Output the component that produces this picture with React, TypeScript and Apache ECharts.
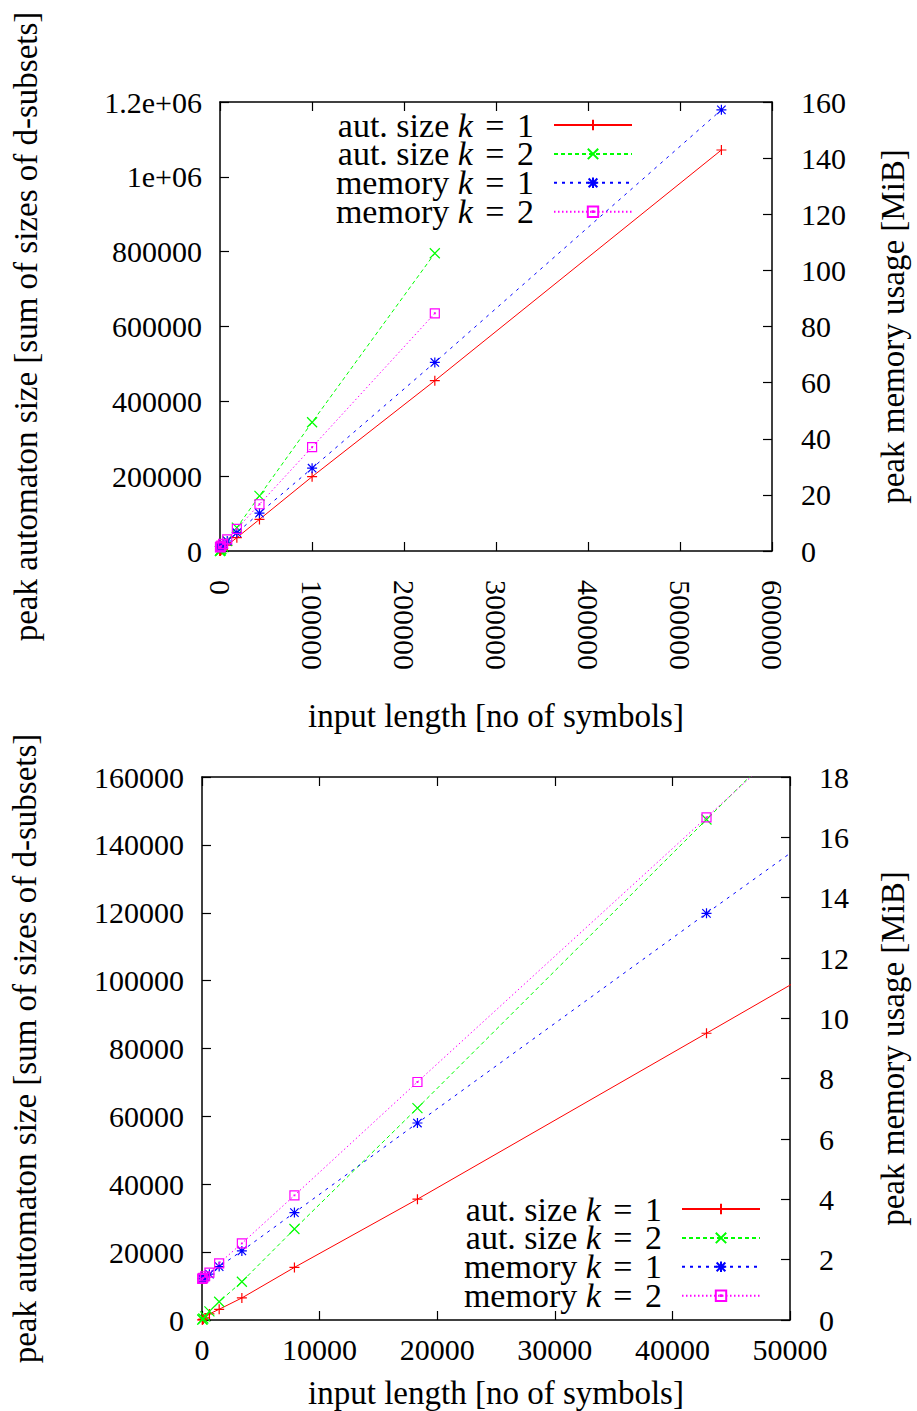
import React, { useEffect, useRef } from 'react';
import * as echarts from 'echarts';

// ---- data ----
const inputLength = [21, 49, 114, 266, 630, 1460, 3390, 7860, 18320, 42900, 100100, 233500, 545000];
const autSizeK1 = [40, 100, 260, 600, 1800, 3150, 6500, 15500, 35600, 84500, 198600, 455200, 1071700];
const autSizeK2 = [90, 200, 450, 1050, 2560, 5390, 11280, 26800, 62440, 147480, 344000, 795700];
const memoryK1 = [1.36, 1.37, 1.39, 1.43, 1.52, 1.77, 2.29, 3.56, 6.53, 13.48, 29.5, 67.2, 157.2];
const memoryK2 = [1.36, 1.38, 1.4, 1.45, 1.57, 1.88, 2.54, 4.13, 7.89, 16.66, 37.0, 84.7];

const seriesNames = ['aut. size k = 1', 'aut. size k = 2', 'memory k = 1', 'memory k = 2'];
const legendLabels = [
  ['aut. size ', 'k', '1'],
  ['aut. size ', 'k', '2'],
  ['memory ', 'k', '1'],
  ['memory ', 'k', '2'],
];

const topXTicks = { min: 0, max: 600000, interval: 100000 };
const topYTicks = { min: 0, max: 1200000, interval: 200000 };
const topY2Ticks = { min: 0, max: 160, interval: 20 };
const botXTicks = { min: 0, max: 50000, interval: 10000 };
const botYTicks = { min: 0, max: 160000, interval: 20000 };
const botY2Ticks = { min: 0, max: 18, interval: 2 };

const FONT = "'Liberation Serif', 'Times New Roman', serif";

const SYM_PLUS = 'path://M5,0L5,10M0,5L10,5';
const SYM_CROSS = 'path://M0,0L10,10M10,0L0,10';
const SYM_STAR = 'path://M5,0L5,10M0,5L10,5M0.8,0.8L9.2,9.2M9.2,0.8L0.8,9.2';
const SYM_SQUARE = 'path://M0,0L10,0L10,10L0,10ZM4.6,4.6L5.4,4.6L5.4,5.4L4.6,5.4Z';

const styles = [
  { color: '#ff0000', symbol: SYM_PLUS, type: 'solid' as any, size: 10 },
  { color: '#00ff00', symbol: SYM_CROSS, type: [4, 3] as any, size: 10 },
  { color: '#0000ff', symbol: SYM_STAR, type: [3, 5] as any, size: 10 },
  { color: '#ff00ff', symbol: SYM_SQUARE, type: [1.5, 2.5] as any, size: 9 },
];

function pairs(ys: number[]) {
  return ys.map((y, i) => [inputLength[i], y]);
}

function fmtTop(v: number) {
  if (v === 1000000) return '1e+06';
  if (v === 1200000) return '1.2e+06';
  return String(v);
}

export default function App() {
  const ref = useRef<HTMLDivElement>(null);
  useEffect(() => {
    if (!ref.current) return;
    const chart = echarts.init(ref.current, undefined, { renderer: 'svg' });

    const black = '#000';
    const axisLine = { show: true, onZero: false, lineStyle: { color: black, width: 1.5 } };
    const tick = { show: true, inside: true, length: 9, lineStyle: { color: black, width: 1.2 } };
    const labelStyle = { color: black, fontFamily: FONT, fontSize: 30, formatter: (v: number) => String(v) };
    const nameStyle = { color: black, fontFamily: FONT, fontSize: 33 };

    const xAxisMain = (grid: number, t: any, opts: any) => ({
      type: 'value', gridIndex: grid, position: 'bottom', ...t,
      axisLine, axisTick: tick, splitLine: { show: false },
      nameLocation: 'middle', name: 'input length [no of symbols]', nameTextStyle: nameStyle,
      ...opts,
    });
    const xAxisMirror = (grid: number, t: any) => ({
      type: 'value', gridIndex: grid, position: 'top', ...t,
      axisLine, axisTick: tick, splitLine: { show: false }, axisLabel: { show: false },
    });
    const yAxisLeft = (grid: number, t: any, opts: any) => ({
      type: 'value', gridIndex: grid, position: 'left', ...t,
      axisLine, axisTick: tick, splitLine: { show: false },
      name: 'peak automaton size [sum of sizes of d-subsets]', nameLocation: 'middle', nameRotate: 90,
      nameTextStyle: nameStyle,
      ...opts,
    });
    const yAxisRight = (grid: number, t: any, opts: any) => ({
      type: 'value', gridIndex: grid, position: 'right', ...t,
      axisLine, axisTick: tick, splitLine: { show: false },
      name: 'peak memory usage [MiB]', nameLocation: 'middle', nameRotate: 90,
      nameTextStyle: nameStyle,
      ...opts,
    });

    const legendRich = {
      n: { fontFamily: FONT, fontSize: 34, color: black },
      k: { fontFamily: FONT, fontSize: 34, fontStyle: 'italic', color: black },
      g: { width: 4 },
      s: { width: 15 },
    };
    const legendFormatter = (name: string) => {
      const idx = seriesNames.indexOf(name);
      const p = legendLabels[idx];
      return `{n|${p[0]}}{k|${p[1]}}{n| }{g|}{n|=}{g|}{n| ${p[2]}}{s|}`;
    };
    const legendBase = {
      orient: 'vertical', align: 'right', itemWidth: 78, itemHeight: 13, itemGap: -5.1, padding: 0,
      data: seriesNames, formatter: legendFormatter, selectedMode: false,
      textStyle: { fontFamily: FONT, fontSize: 34, color: black, rich: legendRich },
    };

    const allY = [autSizeK1, autSizeK2, memoryK1, memoryK2];
    const series: any[] = [];
    [0, 1].forEach((g) => {
      allY.forEach((ys, i) => {
        const st = styles[i];
        series.push({
          type: 'line', name: seriesNames[i],
          xAxisIndex: g * 2, yAxisIndex: g * 2 + (i >= 2 ? 1 : 0),
          data: pairs(ys),
          symbol: st.symbol, symbolSize: st.size, showSymbol: true,
          lineStyle: { color: st.color, width: 1, type: st.type },
          itemStyle: {
            color: i === 3 ? 'rgba(0,0,0,0)' : st.color,
            borderColor: st.color, borderWidth: 1.2,
          },
          emphasis: { disabled: true },
          clip: true,
          z: 2 + i,
        });
      });
    });

    chart.setOption({
      animation: false,
      textStyle: { fontFamily: FONT },
      grid: [
        { left: 220, top: 102, width: 559, height: 449, show: false },
        { left: 202, top: 777, width: 595, height: 543, show: false },
      ],
      xAxis: [
        xAxisMain(0, topXTicks, {
          nameGap: 148,
          axisLabel: { ...labelStyle, rotate: -90, margin: 29 },
        }),
        xAxisMirror(0, topXTicks),
        xAxisMain(1, botXTicks, {
          nameGap: 56,
          axisLabel: { ...labelStyle, margin: 14 },
        }),
        xAxisMirror(1, botXTicks),
      ],
      yAxis: [
        yAxisLeft(0, topYTicks, { nameGap: 178, axisLabel: { ...labelStyle, margin: 18, formatter: fmtTop } }),
        yAxisRight(0, topY2Ticks, { nameGap: 104, axisLabel: { ...labelStyle, margin: 29 } }),
        yAxisLeft(1, botYTicks, { nameGap: 161, axisLabel: { ...labelStyle, margin: 18 } }),
        yAxisRight(1, botY2Ticks, { nameGap: 86, axisLabel: { ...labelStyle, margin: 29 } }),
      ],
      legend: [
        { ...legendBase, right: 284, top: 108 },
        { ...legendBase, right: 156, top: 1192 },
      ],
      series,
    });

    return () => chart.dispose();
  }, []);

  return (
    <div
      ref={ref}
      style={{ position: 'absolute', left: 0, top: 0, width: 917, height: 1411, background: '#fff' }}
    />
  );
}
